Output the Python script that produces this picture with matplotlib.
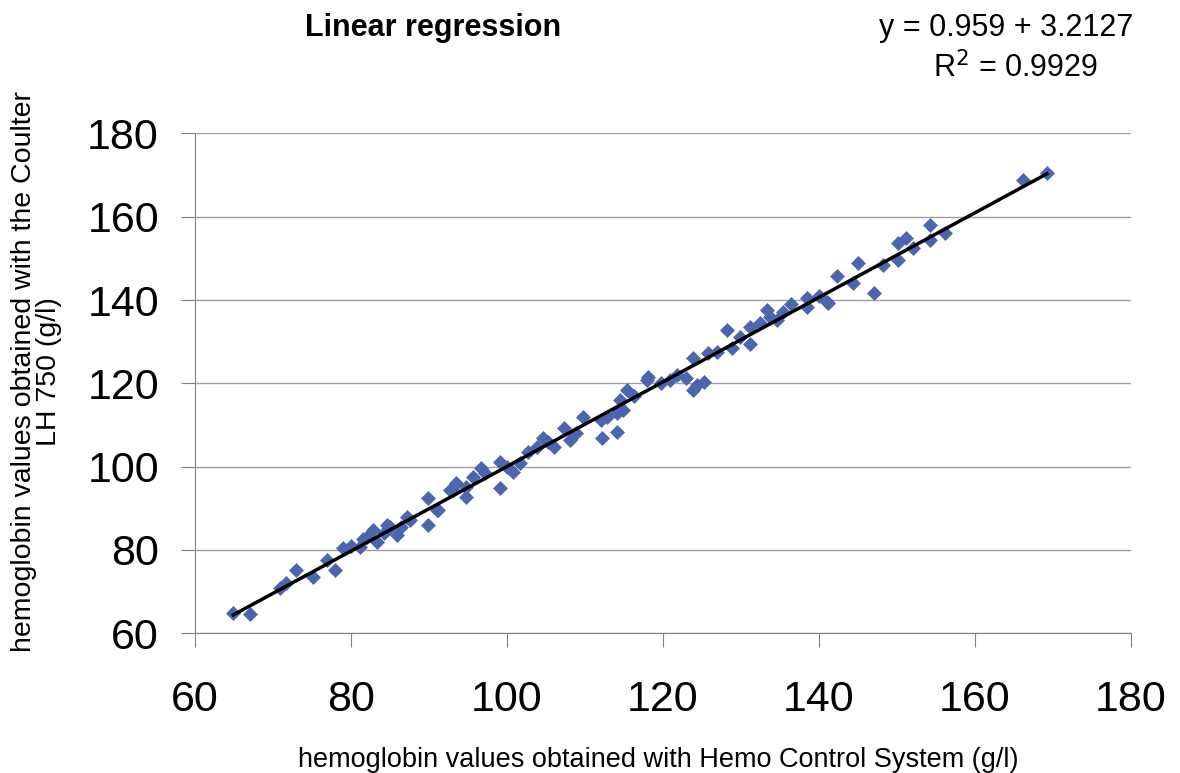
import matplotlib.pyplot as plt
import numpy as np

plt.rcParams['font.family'] = ['Liberation Sans', 'DejaVu Sans']

# hemoglobin values (g/l)
hemoControl = [64.9, 67.0, 70.9, 71.7, 73.0, 75.1, 76.9, 77.9, 79.0, 81.1,
               82.0, 82.8, 83.3, 84.2, 85.0, 85.9, 87.2, 87.6, 89.9, 89.9,
               91.0, 91.2, 92.7, 93.1, 93.5, 94.8, 94.8, 95.6, 96.6, 99.1,
               99.1, 100.8, 101.7, 103.8, 104.6, 106.0, 107.3, 108.1, 109.8, 112.0,
               112.2, 114.1, 114.1, 114.5, 114.9, 115.4, 117.9, 118.1, 120.9, 123.0,
               123.9, 124.4, 125.2, 123.9, 125.7, 128.2, 128.9, 131.1, 131.1, 133.3,
               134.6, 138.5, 138.5, 141.0, 141.2, 142.3, 144.3, 145.0, 147.1, 148.2,
               150.1, 150.1, 151.1, 152.1, 154.2, 154.2, 156.2, 166.1, 169.2,
               80.0, 81.5, 84.6, 86.4, 97.2, 100.0, 102.7, 105.2, 108.8, 112.8,
               116.3, 119.8, 121.8, 126.9, 129.9, 132.4, 133.7, 135.4, 136.4, 140.0]
coulter = [64.8, 64.5, 70.8, 72.0, 75.1, 73.4, 77.5, 75.1, 80.4, 80.6,
           83.0, 84.7, 81.8, 84.0, 85.4, 83.5, 87.8, 87.1, 92.4, 85.9,
           89.5, 89.5, 94.3, 94.3, 96.0, 95.0, 92.6, 97.4, 99.6, 101.0,
           94.8, 98.6, 100.8, 104.6, 106.8, 104.6, 109.2, 106.3, 111.8, 111.1,
           106.8, 108.2, 112.8, 115.9, 113.5, 118.3, 120.7, 121.4, 120.7, 121.2,
           126.0, 119.5, 120.2, 118.3, 127.2, 132.7, 128.4, 133.4, 129.5, 137.5,
           135.1, 138.2, 140.5, 139.5, 139.2, 145.7, 144.2, 148.8, 141.6, 148.3,
           149.5, 153.8, 155.0, 152.4, 157.9, 154.5, 156.2, 168.9, 170.6,
           81.0, 82.5, 86.0, 85.5, 98.5, 100.0, 103.5, 106.0, 108.0, 112.0,
           117.0, 120.0, 122.0, 127.5, 131.0, 134.5, 136.0, 137.0, 139.0, 141.0]

ticks = [60, 80, 100, 120, 140, 160, 180]

fig = plt.figure(figsize=(11.8, 7.73), dpi=100)
ax = fig.add_axes([0.1653, 0.1811, 0.7932, 0.6462])

ax.scatter(hemoControl, coulter, marker='D', s=58, color='#4b66ae', zorder=3, linewidths=0)

a, b = np.polyfit(hemoControl, coulter, 1)
xl = np.array([min(hemoControl), max(hemoControl)])
ax.plot(xl, a * xl + b, color='black', lw=2.5, zorder=4)

ax.set_xlim(60, 180)
ax.set_ylim(60, 180)
ax.set_xticks(ticks)
ax.set_yticks(ticks)
ax.tick_params(labelsize=31, color='#808080', length=10)
ax.tick_params(axis='x', pad=24)
ax.tick_params(axis='y', pad=16)
ax.grid(True, axis='y', color='#a0a0a0', lw=1)
ax.set_axisbelow(True)
for s in ['top', 'right']:
	ax.spines[s].set_visible(False)
for s in ['left', 'bottom']:
	ax.spines[s].set_color('#808080')

fig.text(0.558, 0.017, "hemoglobin values obtained with Hemo Control System (g/l)",
	fontsize=19.5, ha='center', va='center')
fig.text(0.031, 0.519, "hemoglobin values obtained with the Coulter\nLH 750 (g/l)",
	fontsize=20.5, rotation=90, ha='center', va='center', multialignment='center', linespacing=0.95)

fig.text(0.367, 0.964, "Linear regression", fontsize=22, fontweight='bold', ha='center', va='center')
fig.text(0.960, 0.964, "y = 0.959 + 3.2127", fontsize=22, ha='right', va='center')
fig.text(0.9305, 0.912, "R$^2$ = 0.9929", fontsize=22, ha='right', va='center')

plt.savefig("out.png", dpi=100)
